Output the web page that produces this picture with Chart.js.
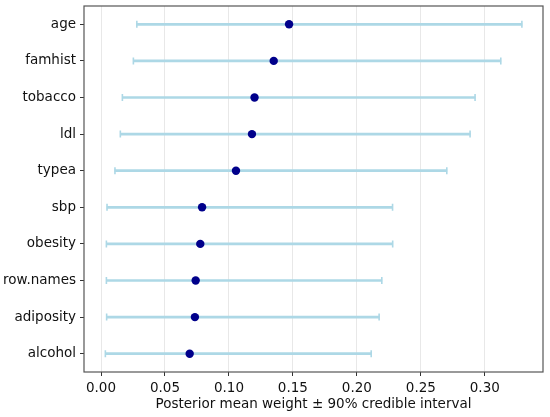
<!DOCTYPE html>
<html>
<head>
<meta charset="utf-8">
<script src="https://cdn.jsdelivr.net/npm/chart.js@4"></script>
<style>
  html, body { margin: 0; padding: 0; background: #fff; }
  #wrap { width: 550px; height: 417px; position: relative; }
</style>
</head>
<body>
<div id="wrap"><canvas id="chart"></canvas></div>
<script>
  // features, top to bottom
  const features = ["age", "famhist", "tobacco", "ldl", "typea", "sbp", "obesity", "row.names", "adiposity", "alcohol"];
  const meanWeight = [0.147, 0.135, 0.120, 0.118, 0.1055, 0.079, 0.0776, 0.074, 0.0734, 0.0693];
  const lower90 = [0.028, 0.0253, 0.0167, 0.0151, 0.0109, 0.0047, 0.0042, 0.0042, 0.0044, 0.0034];
  const upper90 = [0.329, 0.3125, 0.2924, 0.2885, 0.2703, 0.2279, 0.228, 0.2195, 0.2174, 0.2112];
  const xTicks = [0.00, 0.05, 0.10, 0.15, 0.20, 0.25, 0.30];

  const BAR_COLOR = "#add8e6";
  const DOT_COLOR = "#00008b";
  const TEXT = "#111";
  const FONT = { family: "'DejaVu Sans'", size: 13.5 };

  const capPoints = [];
  features.forEach(function (f, i) {
    capPoints.push({ x: lower90[i], y: f });
    capPoints.push({ x: upper90[i], y: f });
  });

  // matplotlib-ish box around the axes
  const frame = {
    id: "frame",
    afterDatasetsDraw(chart) {
      const a = chart.chartArea;
      const ctx = chart.ctx;
      ctx.save();
      ctx.strokeStyle = "#555";
      ctx.lineWidth = 1.2;
      ctx.strokeRect(a.left, a.top, a.right - a.left, a.bottom - a.top);
      ctx.restore();
    },
  };

  new Chart(document.getElementById("chart"), {
    type: "bar",
    data: {
      labels: features,
      datasets: [
        {
          type: "scatter",
          label: "mean",
          data: features.map((f, i) => ({ x: meanWeight[i], y: f })),
          pointStyle: "circle",
          pointRadius: 4.2,
          backgroundColor: DOT_COLOR,
          borderColor: DOT_COLOR,
          borderWidth: 0,
          order: 0,
        },
        {
          type: "scatter",
          label: "caps",
          data: capPoints,
          pointStyle: "line",
          rotation: 90,
          pointRadius: 3.5,
          borderColor: BAR_COLOR,
          borderWidth: 1.6,
          order: 1,
        },
        {
          label: "90% interval",
          data: features.map((f, i) => [lower90[i], upper90[i]]),
          backgroundColor: BAR_COLOR,
          borderWidth: 0,
          barThickness: 2,
          order: 2,
        },
      ],
    },
    options: {
      indexAxis: "y",
      responsive: true,
      maintainAspectRatio: false,
      animation: false,
      layout: { padding: { left: 0, right: 7, top: 6, bottom: 4 } },
      plugins: {
        legend: { display: false },
        tooltip: { enabled: false },
      },
      scales: {
        x: {
          type: "linear",
          min: -0.0133,
          max: 0.3455,
          afterBuildTicks(scale) {
            scale.ticks = xTicks.map((v) => ({ value: v }));
          },
          afterFit(scale) {
            scale.height = 41;
            scale.paddingRight = 0;
          },
          ticks: {
            color: TEXT,
            font: FONT,
            padding: 4,
            maxRotation: 0,
            callback: (v) => Number(v).toFixed(2),
          },
          grid: {
            color: "#e8e8e8",
            lineWidth: 1,
            tickColor: "#333",
            tickLength: 4,
          },
          border: { display: false },
          title: {
            display: true,
            text: "Posterior mean weight \u00b1 90% credible interval",
            color: TEXT,
            font: FONT,
            padding: { top: 0, bottom: 0 },
          },
        },
        y: {
          type: "category",
          offset: true,
          afterFit(scale) {
            scale.width = 84;
            scale.paddingTop = 0;
            scale.paddingBottom = 0;
          },
          ticks: { color: TEXT, font: FONT, padding: 4 },
          grid: {
            offset: false,
            drawOnChartArea: false,
            tickColor: "#333",
            tickLength: 4,
          },
          border: { display: false },
        },
      },
    },
    plugins: [frame],
  });
</script>
</body>
</html>
